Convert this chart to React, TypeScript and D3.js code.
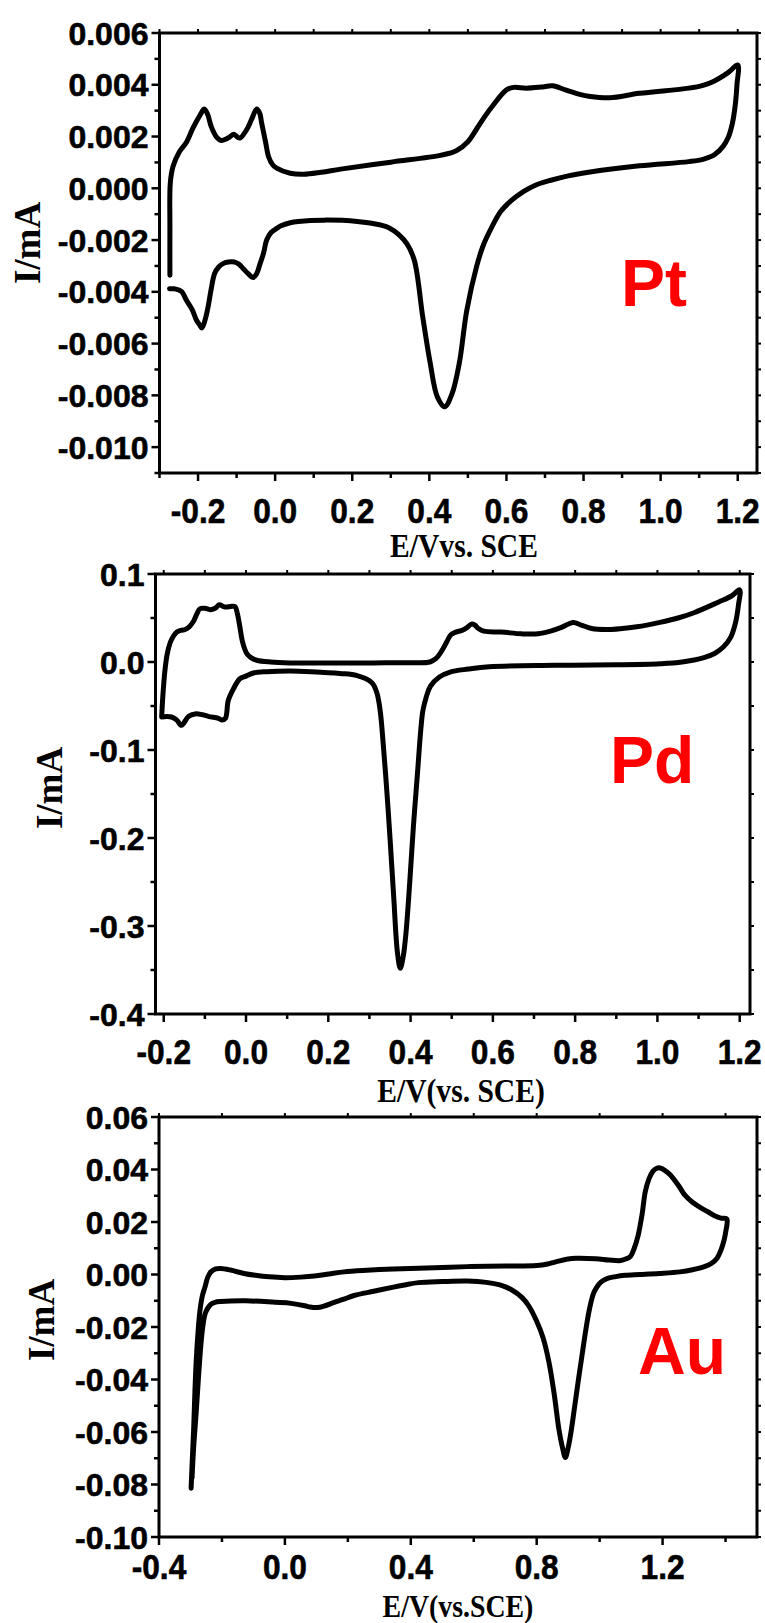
import React from 'react';
import * as d3 from 'd3';

// ---- data (E in V, I in mA) ----
const ptCurve: [number, number][] = [
  [-0.273, -0.00336], [-0.273, -0.0015], [-0.272, 0.0002], [-0.265, 0.00084], [-0.248, 0.00142],
  [-0.23, 0.00178], [-0.213, 0.00233], [-0.195, 0.00282], [-0.184, 0.00306], [-0.175, 0.00285],
  [-0.166, 0.00239], [-0.152, 0.00198], [-0.14, 0.00185], [-0.125, 0.00192], [-0.118, 0.00198],
  [-0.107, 0.00209], [-0.098, 0.00198], [-0.091, 0.00194], [-0.074, 0.00226], [-0.06, 0.0027],
  [-0.048, 0.00306], [-0.04, 0.0029], [-0.035, 0.00252], [-0.025, 0.0018], [-0.017, 0.00122],
  [-0.006, 0.0009], [0.004, 0.00078], [0.039, 0.00058], [0.074, 0.00054], [0.12, 0.00062],
  [0.17, 0.00074], [0.3, 0.00101], [0.431, 0.00128], [0.47, 0.00145], [0.5, 0.0018],
  [0.523, 0.0023], [0.545, 0.0028], [0.565, 0.0032], [0.6, 0.0038], [0.619, 0.0039],
  [0.651, 0.00387], [0.69, 0.00391], [0.72, 0.00396], [0.753, 0.0038], [0.79, 0.00363],
  [0.817, 0.00355], [0.868, 0.0035], [0.945, 0.00367], [1.073, 0.00387], [1.11, 0.00398],
  [1.137, 0.00413], [1.175, 0.00447], [1.2, 0.00476],
  [1.198, 0.004], [1.194, 0.00327], [1.186, 0.0025], [1.175, 0.00195], [1.162, 0.00162],
  [1.14, 0.0013], [1.11, 0.00112], [1.073, 0.00103], [0.945, 0.00087], [0.817, 0.00063],
  [0.76, 0.00048], [0.715, 0.00031], [0.675, 0.00012], [0.645, -0.00012], [0.613, -0.00047],
  [0.585, -0.0009], [0.561, -0.00153], [0.54, -0.0022], [0.523, -0.003], [0.497, -0.00473],
  [0.478, -0.00673], [0.459, -0.00793], [0.44, -0.00844], [0.421, -0.00807], [0.402, -0.00673],
  [0.383, -0.00498], [0.361, -0.00278], [0.342, -0.00215], [0.32, -0.00178], [0.295, -0.00152],
  [0.274, -0.00142], [0.213, -0.00128], [0.126, -0.00123], [0.06, -0.00128], [0.039, -0.00133],
  [0.015, -0.00145], [0.004, -0.00155], [-0.01, -0.0017], [-0.022, -0.002], [-0.03, -0.0025],
  [-0.039, -0.00291], [-0.048, -0.0033], [-0.057, -0.00345], [-0.07, -0.0033], [-0.083, -0.0031],
  [-0.095, -0.00292], [-0.109, -0.00284], [-0.122, -0.00285], [-0.135, -0.00291], [-0.147, -0.00305],
  [-0.157, -0.00329], [-0.166, -0.0039], [-0.174, -0.00459], [-0.182, -0.0051], [-0.19, -0.0054],
  [-0.197, -0.00525], [-0.204, -0.0051], [-0.215, -0.0047], [-0.23, -0.00433], [-0.242, -0.004],
  [-0.252, -0.00392], [-0.263, -0.00388], [-0.274, -0.00388],
];

const pdCurve: [number, number][] = [
  [-0.205, -0.0625], [-0.203, -0.045], [-0.2, -0.025], [-0.197, -0.0094], [-0.192, 0.008],
  [-0.185, 0.021], [-0.177, 0.029], [-0.168, 0.034], [-0.158, 0.036], [-0.148, 0.037],
  [-0.138, 0.04], [-0.128, 0.046], [-0.12, 0.054], [-0.112, 0.0605], [-0.1, 0.061],
  [-0.087, 0.0595], [-0.075, 0.061], [-0.065, 0.065], [-0.055, 0.063], [-0.047, 0.0625],
  [-0.037, 0.0632], [-0.027, 0.063], [-0.021, 0.055], [-0.015, 0.04], [-0.008, 0.022],
  [0.002, 0.0095], [0.012, 0.005], [0.026, 0.002], [0.06, 0.0], [0.107, -0.001],
  [0.2, -0.0012], [0.309, -0.001], [0.4, -0.0008], [0.447, 0.0], [0.462, 0.004],
  [0.475, 0.012], [0.488, 0.023], [0.498, 0.031], [0.51, 0.034], [0.525, 0.036],
  [0.537, 0.039], [0.548, 0.043], [0.556, 0.042], [0.565, 0.038], [0.578, 0.035],
  [0.62, 0.034], [0.67, 0.032], [0.71, 0.032], [0.74, 0.035], [0.765, 0.039],
  [0.795, 0.045], [0.815, 0.042], [0.84, 0.038], [0.887, 0.037], [0.95, 0.04],
  [1.006, 0.045], [1.05, 0.05], [1.089, 0.056], [1.148, 0.068], [1.18, 0.075], [1.2, 0.082],
  [1.197, 0.065], [1.19, 0.045], [1.178, 0.028], [1.16, 0.017], [1.14, 0.01],
  [1.113, 0.005], [1.06, 0.0], [1.006, -0.002], [0.9, -0.0032], [0.75, -0.0038],
  [0.591, -0.0053], [0.54, -0.008], [0.496, -0.0114], [0.47, -0.017], [0.448, -0.0276],
  [0.438, -0.04], [0.43, -0.055], [0.425, -0.076], [0.417, -0.125], [0.407, -0.186],
  [0.398, -0.25], [0.389, -0.307], [0.382, -0.335], [0.375, -0.348], [0.368, -0.33],
  [0.359, -0.267], [0.35, -0.2], [0.342, -0.145], [0.333, -0.09], [0.326, -0.055],
  [0.318, -0.035], [0.306, -0.0235], [0.27, -0.0155], [0.228, -0.013], [0.16, -0.011],
  [0.107, -0.0102], [0.05, -0.011], [0.018, -0.0125], [0.0, -0.016], [-0.015, -0.019],
  [-0.03, -0.03], [-0.043, -0.0435], [-0.05, -0.064], [-0.058, -0.066], [-0.067, -0.064],
  [-0.09, -0.062], [-0.105, -0.06], [-0.124, -0.059], [-0.14, -0.062], [-0.157, -0.072],
  [-0.168, -0.066], [-0.181, -0.0625], [-0.193, -0.062], [-0.205, -0.0625],
];

const auCurve: [number, number][] = [
  [-0.298, -0.0814], [-0.294, -0.07], [-0.29, -0.0593], [-0.286, -0.045], [-0.282, -0.0334],
  [-0.276, -0.022], [-0.27, -0.0139], [-0.262, -0.008], [-0.254, -0.0048], [-0.245, -0.001],
  [-0.235, 0.001], [-0.22, 0.0021], [-0.204, 0.0023], [-0.173, 0.0017], [-0.13, 0.0004],
  [-0.094, -0.0003], [-0.05, -0.0009], [0.0, -0.0012], [0.05, -0.001], [0.094, -0.0006],
  [0.14, 0.0002], [0.188, 0.001], [0.26, 0.0016], [0.345, 0.0021], [0.45, 0.0025],
  [0.58, 0.003], [0.7, 0.0032], [0.8, 0.0034], [0.835, 0.004], [0.863, 0.0049],
  [0.895, 0.0058], [0.925, 0.0062], [0.988, 0.006], [1.03, 0.0055], [1.067, 0.0053],
  [1.085, 0.006], [1.098, 0.0069], [1.11, 0.01], [1.122, 0.0147], [1.135, 0.023],
  [1.145, 0.0315], [1.157, 0.0365], [1.169, 0.0393], [1.18, 0.0404], [1.192, 0.0406],
  [1.208, 0.0396], [1.224, 0.038], [1.25, 0.034], [1.271, 0.0302], [1.295, 0.0275],
  [1.318, 0.0257], [1.345, 0.0238], [1.365, 0.0224], [1.385, 0.0215], [1.404, 0.0212],
  [1.405, 0.0195], [1.401, 0.0165], [1.396, 0.0134], [1.386, 0.0095], [1.373, 0.0062],
  [1.355, 0.0042], [1.333, 0.003], [1.295, 0.0018], [1.255, 0.001], [1.19, 0.0004],
  [1.129, 0.0], [1.08, -0.0003], [1.051, -0.0008], [1.025, -0.0015], [1.004, -0.0029],
  [0.99, -0.005], [0.98, -0.0074], [0.968, -0.013], [0.957, -0.0204], [0.945, -0.03],
  [0.933, -0.0398], [0.921, -0.05], [0.91, -0.0593], [0.9, -0.066], [0.891, -0.0697],
  [0.882, -0.066], [0.871, -0.0593], [0.855, -0.045], [0.839, -0.0334], [0.82, -0.024],
  [0.8, -0.0178], [0.775, -0.012], [0.753, -0.0087], [0.72, -0.0058], [0.69, -0.0042],
  [0.64, -0.003], [0.58, -0.0025], [0.5, -0.0027], [0.424, -0.0031], [0.38, -0.004],
  [0.345, -0.0048], [0.282, -0.0064], [0.22, -0.008], [0.185, -0.0095], [0.157, -0.0106],
  [0.125, -0.012], [0.102, -0.0126], [0.08, -0.0124], [0.063, -0.0119], [0.02, -0.011],
  [-0.031, -0.0106], [-0.125, -0.01], [-0.204, -0.0103], [-0.222, -0.0106], [-0.235, -0.0113],
  [-0.246, -0.013], [-0.254, -0.0152], [-0.261, -0.02], [-0.267, -0.0269], [-0.275, -0.04],
  [-0.282, -0.0528], [-0.29, -0.066], [-0.295, -0.0775],
];

// ticks
const ptXTicks = [-0.2, 0.0, 0.2, 0.4, 0.6, 0.8, 1.0, 1.2];
const ptXMinor = [-0.3, -0.1, 0.1, 0.3, 0.5, 0.7, 0.9, 1.1];
const ptYTicks = [0.006, 0.004, 0.002, 0.0, -0.002, -0.004, -0.006, -0.008, -0.01];
const ptYMinor = [0.005, 0.003, 0.001, -0.001, -0.003, -0.005, -0.007, -0.009, -0.011];

const pdXTicks = [-0.2, 0.0, 0.2, 0.4, 0.6, 0.8, 1.0, 1.2];
const pdXMinor = [-0.1, 0.1, 0.3, 0.5, 0.7, 0.9, 1.1];
const pdYTicks = [0.1, 0.0, -0.1, -0.2, -0.3, -0.4];
const pdYMinor = [0.05, -0.05, -0.15, -0.25, -0.35];

const auXTicks = [-0.4, 0.0, 0.4, 0.8, 1.2];
const auXMinor = [-0.2, 0.2, 0.6, 1.0, 1.4];
const auYTicks = [0.06, 0.04, 0.02, 0.0, -0.02, -0.04, -0.06, -0.08, -0.1];
const auYMinor = [0.05, 0.03, 0.01, -0.01, -0.03, -0.05, -0.07, -0.09];

type Box = { left: number; right: number; top: number; bottom: number };

type PanelProps = {
  box: Box;
  xDomain: [number, number];
  yDomain: [number, number];
  curve: [number, number][];
  xTicks: number[];
  xMinor: number[];
  yTicks: number[];
  yMinor: number[];
  yDigits: number;
  xLabelGap: number;
  xTitle: string;
  xTitlePos: [number, number];
  xTitleSize: number;
  yTitlePos: [number, number];
  tag: string;
  tagPos: [number, number];
};

const sans = '"Liberation Sans", Arial, sans-serif';
const serif = '"Liberation Serif", "Times New Roman", serif';

const Panel = ({ box, xDomain, yDomain, curve, xTicks, xMinor, yTicks, yMinor, yDigits,
  xLabelGap, xTitle, xTitlePos, xTitleSize, yTitlePos, tag, tagPos }: PanelProps) => {
  const x = d3.scaleLinear().domain(xDomain).range([box.left, box.right]);
  const y = d3.scaleLinear().domain(yDomain).range([box.bottom, box.top]);
  const line = d3.line<[number, number]>()
    .x(d => x(d[0]))
    .y(d => y(d[1]))
    .curve(d3.curveCatmullRom.alpha(0.5));

  const major = 8;
  const minor = 5;
  const mirror = 4;
  const fmt = (v: number, n: number) => (Math.abs(v) < 1e-12 ? 0 : v).toFixed(n);

  return (
    <g>
      {/* bottom ticks + top mirror ticks */}
      {xTicks.map(t => (
        <g key={'xt' + t}>
          <line x1={x(t)} x2={x(t)} y1={box.bottom} y2={box.bottom + major} stroke="#000" strokeWidth={2.5} />
          <line x1={x(t)} x2={x(t)} y1={box.top} y2={box.top - mirror} stroke="#000" strokeWidth={2} />
          <text transform={`translate(${x(t)},${box.bottom + xLabelGap}) scale(0.88,1)`} textAnchor="middle"
            fontFamily={sans} fontWeight="bold" fontSize={36} stroke="#000" strokeWidth={0.6}>{fmt(t, 1)}</text>
        </g>
      ))}
      {xMinor.map(t => (
        <g key={'xm' + t}>
          <line x1={x(t)} x2={x(t)} y1={box.bottom} y2={box.bottom + minor} stroke="#000" strokeWidth={2.5} />
          <line x1={x(t)} x2={x(t)} y1={box.top} y2={box.top - mirror} stroke="#000" strokeWidth={2} />
        </g>
      ))}
      {/* left ticks + right mirror ticks */}
      {yTicks.map(t => (
        <g key={'yt' + t}>
          <line x1={box.left} x2={box.left - major} y1={y(t)} y2={y(t)} stroke="#000" strokeWidth={2.5} />
          <line x1={box.right} x2={box.right + mirror} y1={y(t)} y2={y(t)} stroke="#000" strokeWidth={2} />
          <text x={box.left - 11} y={y(t)} dy="0.36em" textAnchor="end" fontFamily={sans}
            fontWeight="bold" fontSize={32} stroke="#000" strokeWidth={0.6}>{fmt(t, yDigits)}</text>
        </g>
      ))}
      {yMinor.map(t => (
        <g key={'ym' + t}>
          <line x1={box.left} x2={box.left - minor} y1={y(t)} y2={y(t)} stroke="#000" strokeWidth={2.5} />
          <line x1={box.right} x2={box.right + mirror} y1={y(t)} y2={y(t)} stroke="#000" strokeWidth={2} />
        </g>
      ))}
      <rect x={box.left} y={box.top} width={box.right - box.left} height={box.bottom - box.top}
        fill="none" stroke="#000" strokeWidth={3} />
      <path d={line(curve) ?? ''} fill="none" stroke="#000" strokeWidth={5}
        strokeLinejoin="round" strokeLinecap="round" />
      <text transform={`translate(${xTitlePos[0]},${xTitlePos[1]}) scale(0.87,1)`} textAnchor="middle"
        fontFamily={serif} fontWeight="bold" fontSize={xTitleSize}>{xTitle}</text>
      <text transform={`translate(${yTitlePos[0]},${yTitlePos[1]}) rotate(-90)`} dy="0.35em"
        textAnchor="middle" fontFamily={serif} fontWeight="bold" fontSize={37}>I/mA</text>
      <text x={tagPos[0]} y={tagPos[1]} fontFamily={sans} fontWeight="bold" fontSize={66}
        fill="#ff0000">{tag}</text>
    </g>
  );
};

export default function App() {
  return (
    <svg width={765} height={1623} style={{ position: 'absolute', left: 0, top: 0, background: '#fff' }}>
      <rect width={765} height={1623} fill="#fff" />
      <Panel box={{ left: 159.5, right: 757, top: 33, bottom: 473 }}
        xDomain={[-0.3, 1.25]} yDomain={[-0.011, 0.006]} curve={ptCurve}
        xTicks={ptXTicks} xMinor={ptXMinor} yTicks={ptYTicks} yMinor={ptYMinor} yDigits={3}
        xLabelGap={50} xTitle="E/Vvs. SCE" xTitlePos={[464, 557]} xTitleSize={34}
        yTitlePos={[27, 243]} tag="Pt" tagPos={[621, 306]} />
      <Panel box={{ left: 155.5, right: 750, top: 574, bottom: 1014 }}
        xDomain={[-0.22, 1.225]} yDomain={[-0.4, 0.1]} curve={pdCurve}
        xTicks={pdXTicks} xMinor={pdXMinor} yTicks={pdYTicks} yMinor={pdYMinor} yDigits={1}
        xLabelGap={50} xTitle="E/V(vs. SCE)" xTitlePos={[461, 1102]} xTitleSize={34}
        yTitlePos={[49, 788]} tag="Pd" tagPos={[610, 783]} />
      <Panel box={{ left: 159, right: 757, top: 1117, bottom: 1537 }}
        xDomain={[-0.4, 1.5]} yDomain={[-0.1, 0.06]} curve={auCurve}
        xTicks={auXTicks} xMinor={auXMinor} yTicks={auYTicks} yMinor={auYMinor} yDigits={2}
        xLabelGap={42} xTitle="E/V(vs.SCE)" xTitlePos={[458, 1617]} xTitleSize={32}
        yTitlePos={[41, 1320]} tag="Au" tagPos={[638, 1374]} />
    </svg>
  );
}
